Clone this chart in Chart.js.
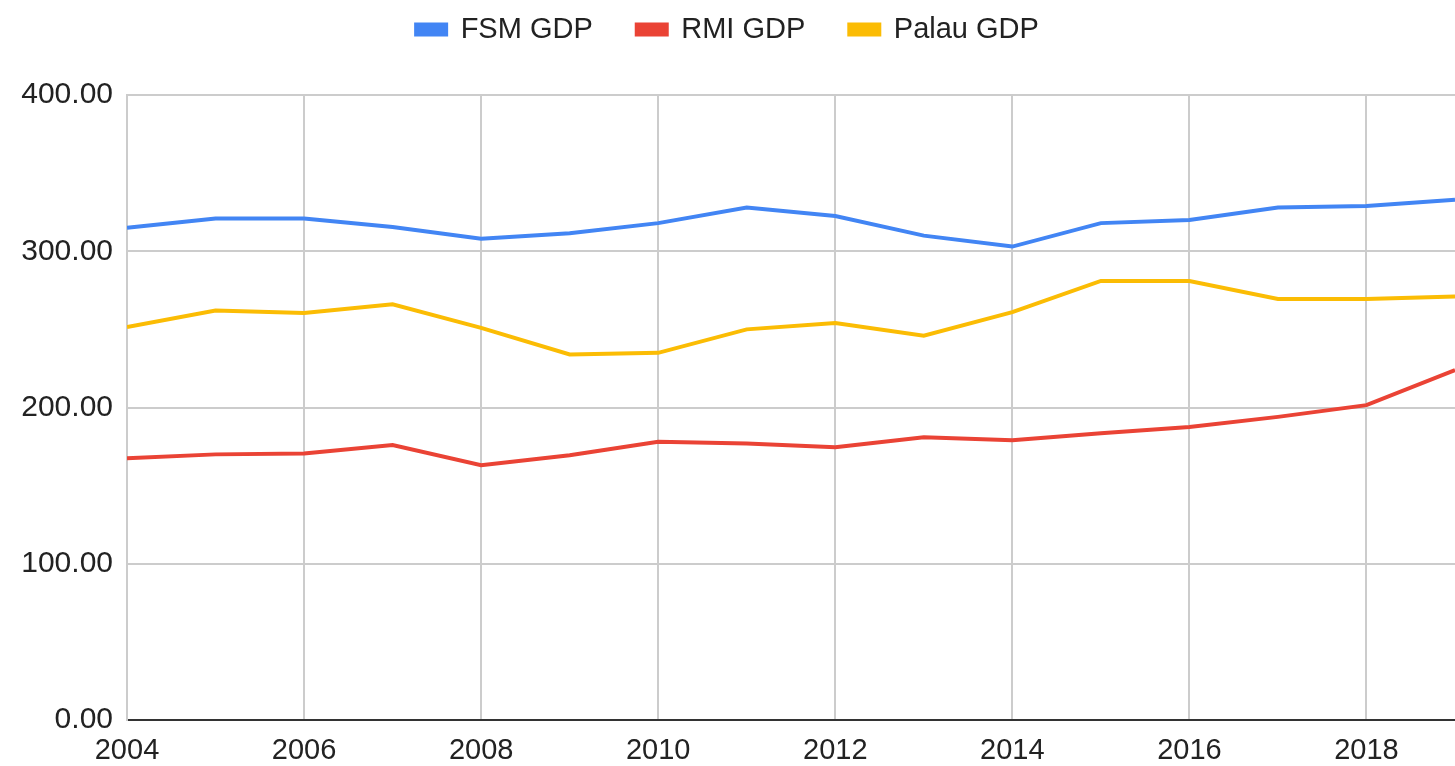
<!DOCTYPE html>
<html>
<head>
<meta charset="utf-8">
<script src="https://cdn.jsdelivr.net/npm/chart.js@4"></script>
<style>
  html, body { margin: 0; padding: 0; background: #fff; }
  #wrap { width: 1455px; height: 766px; position: relative; }
</style>
</head>
<body>
<div id="wrap"><canvas id="gdp-chart"></canvas></div>
<script>
// values
const years = [2004, 2005, 2006, 2007, 2008, 2009, 2010, 2011, 2012, 2013, 2014, 2015, 2016, 2017, 2018, 2019];
const fsmGdp = [315, 321, 321, 315.5, 308, 311.5, 318, 328, 322.5, 310, 303, 318, 320, 328, 329, 333];
const rmiGdp = [167.5, 170, 170.5, 176, 163, 169.5, 178, 177, 174.5, 181, 179, 183.5, 187.5, 194, 201.5, 224];
const palauGdp = [251.5, 262, 260.5, 266, 251, 234, 235, 250, 254, 246, 261, 281, 281, 269.5, 269.5, 271];
const yTicks = [0, 100, 200, 300, 400];

const toPoints = vals => vals.map((v, i) => ({ x: years[i], y: v }));

const font = { family: 'Liberation Sans, Arial, sans-serif', size: 29 };

// legend sits high, with a bigger gap above the plot
const legendSpacing = {
  id: 'legendSpacing',
  beforeInit(chart) {
    const fit = chart.legend.fit;
    chart.legend.fit = function() {
      fit.call(this);
      this.height += 12;
    };
  },
  afterLayout(chart) {
    chart.legend.top -= 29;
    chart.legend.bottom -= 29;
  }
};

document.addEventListener('DOMContentLoaded', function() {
  const ctx = document.getElementById('gdp-chart').getContext('2d');
  new Chart(ctx, {
    type: 'line',
    data: {
      datasets: [
        { label: 'FSM GDP', data: toPoints(fsmGdp), borderColor: '#4285F4', backgroundColor: '#4285F4' },
        { label: 'RMI GDP', data: toPoints(rmiGdp), borderColor: '#EA4335', backgroundColor: '#EA4335' },
        { label: 'Palau GDP', data: toPoints(palauGdp), borderColor: '#FBBC04', backgroundColor: '#FBBC04' }
      ]
    },
    plugins: [legendSpacing],
    options: {
      responsive: true,
      maintainAspectRatio: false,
      animation: false,
      layout: { padding: 0 },
      elements: {
        line: { borderWidth: 4, tension: 0 },
        point: { radius: 0 }
      },
      plugins: {
        legend: {
          position: 'top',
          labels: {
            font: font,
            color: '#222',
            boxWidth: 30,
            boxHeight: 10,
            padding: 44
          }
        },
        tooltip: { enabled: false }
      },
      scales: {
        x: {
          type: 'linear',
          min: years[0],
          max: years[years.length - 1],
          ticks: {
            stepSize: 2,
            includeBounds: false,
            font: font,
            color: '#222',
            padding: 14,
            maxRotation: 0,
            callback: v => String(v)
          },
          grid: { color: '#cccccc', lineWidth: 2, drawTicks: false },
          border: { color: '#333', width: 2 },
          afterFit: s => { s.height = 46; }
        },
        y: {
          min: yTicks[0],
          max: yTicks[yTicks.length - 1],
          ticks: {
            stepSize: 100,
            font: { family: font.family, size: 30 },
            color: '#222',
            padding: 14,
            callback: v => v.toFixed(2)
          },
          grid: {
            color: c => (c.tick && c.tick.value === 0 ? '#333' : '#cccccc'),
            lineWidth: 2,
            drawTicks: false
          },
          border: { color: '#cccccc', width: 2 },
          afterFit: s => { s.width = 127; }
        }
      }
    }
  });
});
</script>
</body>
</html>
